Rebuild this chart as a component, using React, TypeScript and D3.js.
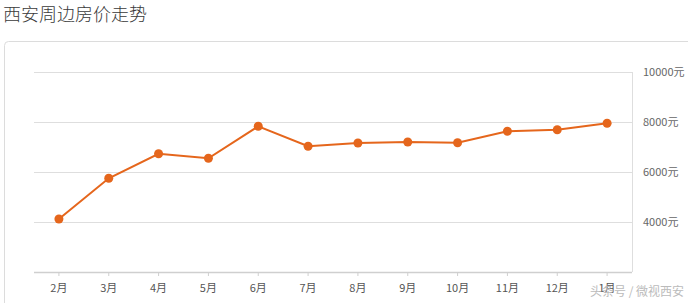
import React from "react";
import * as d3 from "d3";

const title = "西安周边房价走势";
const months = ["2月", "3月", "4月", "5月", "6月", "7月", "8月", "9月", "10月", "11月", "12月", "1月"];
const prices = [4120, 5750, 6730, 6550, 7830, 7030, 7160, 7200, 7170, 7630, 7690, 7950];
const yTicks = [4000, 6000, 8000, 10000];
const watermark = "头条号 / 微视西安";

const W = 688;
const H = 303;
const left = 34;
const right = 632;
const top = 72;
const bottom = 272;
const font = "'Noto Sans CJK SC', 'Noto Sans', sans-serif";
const orange = "#e5661c";

export default function App() {
  const x = d3.scaleBand<string>().domain(months).range([left, right]);
  const y = d3.scaleLinear().domain([2000, 10000]).range([bottom, top]);
  const cx = (m: string) => (x(m) as number) + x.bandwidth() / 2;
  const line = d3
    .line<number>()
    .x((_, i) => cx(months[i]))
    .y((d) => y(d));

  return (
    <div style={{ position: "absolute", left: 0, top: 0, width: W, height: H, background: "#fff" }}>
      <svg width={W} height={H} style={{ display: "block", fontFamily: font }}>
        <rect x={0} y={0} width={W} height={H} fill="#fff" />
        <text x={3} y={21} fontSize={18} fill="#3a3a3a" fontWeight={300}>{title}</text>
        <rect x={4.5} y={41.5} width={W + 10} height={H} rx={4} fill="#fff" stroke="#dcdcdc" />
        {yTicks.map((t) => (
          <g key={t}>
            <line x1={left} x2={right} y1={y(t) + 0.5} y2={y(t) + 0.5} stroke="#dedede" />
            <text x={643} y={y(t)} dy="0.35em" fontSize={11} fill="#666">{t}元</text>
          </g>
        ))}
        <line x1={right + 0.5} x2={right + 0.5} y1={top} y2={bottom} stroke="#dedede" />
        <line x1={left} x2={right} y1={bottom + 0.5} y2={bottom + 0.5} stroke="#cfcfcf" strokeWidth={1.5} />
        {months.map((m) => (
          <g key={m}>
            <line x1={cx(m)} x2={cx(m)} y1={bottom} y2={bottom + 4} stroke="#cfcfcf" />
            <text x={cx(m)} y={288} dy="0.35em" textAnchor="middle" fontSize={11} fill="#555">{m}</text>
          </g>
        ))}
        <path d={line(prices) || ""} fill="none" stroke={orange} strokeWidth={2} />
        {prices.map((p, i) => (
          <circle key={i} cx={cx(months[i])} cy={y(p)} r={4.5} fill={orange} />
        ))}
        <text x={590} y={292} dy="0.35em" fontSize={12} fill="#bbb">{watermark}</text>
      </svg>
    </div>
  );
}
